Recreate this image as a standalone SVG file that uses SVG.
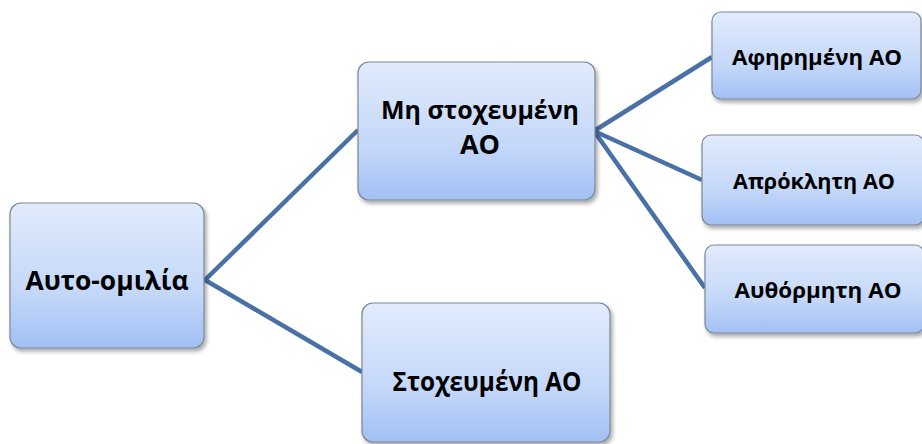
<svg xmlns="http://www.w3.org/2000/svg" width="922" height="444" viewBox="0 0 922 444">
  <defs>
    <linearGradient id="boxFill" x1="0" y1="0" x2="0" y2="1">
      <stop offset="0" stop-color="#e1ebfc"/>
      <stop offset="0.6" stop-color="#c5d8f9"/>
      <stop offset="1" stop-color="#a2c0f4"/>
    </linearGradient>
    <filter id="shadow" x="-10%" y="-10%" width="125%" height="130%">
      <feGaussianBlur in="SourceAlpha" stdDeviation="2"/>
      <feOffset dx="1.5" dy="2.5" result="b"/>
      <feComponentTransfer><feFuncA type="linear" slope="0.35"/></feComponentTransfer>
      <feMerge><feMergeNode/><feMergeNode in="SourceGraphic"/></feMerge>
    </filter>
  </defs>
  <style>
    .box { fill: url(#boxFill); stroke: #7d8796; stroke-width: 1.2; filter: url(#shadow); }
    .lbl { font-family: "Open Sans", "Noto Sans", "Liberation Sans", sans-serif; font-weight: bold; fill: #000; text-anchor: middle; }
    .big { font-size: 27px; }
    .mid { font-size: 25px; }
    .small { font-size: 21px; }
    .link { stroke: #4a71a6; stroke-width: 4.5; fill: none; stroke-linecap: butt; stroke-linejoin: miter; }
  </style>

  <rect width="922" height="444" fill="#ffffff"/>

  <g id="connectors">
    <polyline class="link" points="358,130 205,280 362,372"/>
    <polyline class="link" points="712,57 594,131 702,180"/>
    <line class="link" x1="594" y1="131" x2="705" y2="288"/>
  </g>

  <g id="node-auto-omilia">
    <rect class="box" x="10" y="203" width="194" height="145" rx="11"/>
    <text class="lbl big" x="107" y="290" textLength="163" lengthAdjust="spacingAndGlyphs">Αυτο-ομιλία</text>
  </g>

  <g id="node-mi-stoxeumeni">
    <rect class="box" x="358" y="62" width="237" height="138" rx="11"/>
    <text class="lbl mid" x="480" y="119" textLength="198" lengthAdjust="spacingAndGlyphs">Μη στοχευμένη</text>
    <text class="lbl big" x="480" y="154">ΑΟ</text>
  </g>

  <g id="node-stoxeumeni">
    <rect class="box" x="362" y="303" width="248" height="139" rx="11"/>
    <text class="lbl big" x="487" y="391" textLength="189" lengthAdjust="spacingAndGlyphs">Στοχευμένη ΑΟ</text>
  </g>

  <g id="node-afirimeni">
    <rect class="box" x="712" y="12" width="209" height="87" rx="9"/>
    <text class="lbl small" x="817" y="65" textLength="170" lengthAdjust="spacingAndGlyphs">Αφηρημένη ΑΟ</text>
  </g>

  <g id="node-aprokliti">
    <rect class="box" x="702" y="135" width="222" height="90" rx="9"/>
    <text class="lbl small" x="814" y="189" textLength="162" lengthAdjust="spacingAndGlyphs">Απρόκλητη ΑΟ</text>
  </g>

  <g id="node-authormiti">
    <rect class="box" x="705" y="245" width="219" height="88" rx="9"/>
    <text class="lbl small" x="818" y="298" textLength="167" lengthAdjust="spacingAndGlyphs">Αυθόρμητη ΑΟ</text>
  </g>
</svg>
